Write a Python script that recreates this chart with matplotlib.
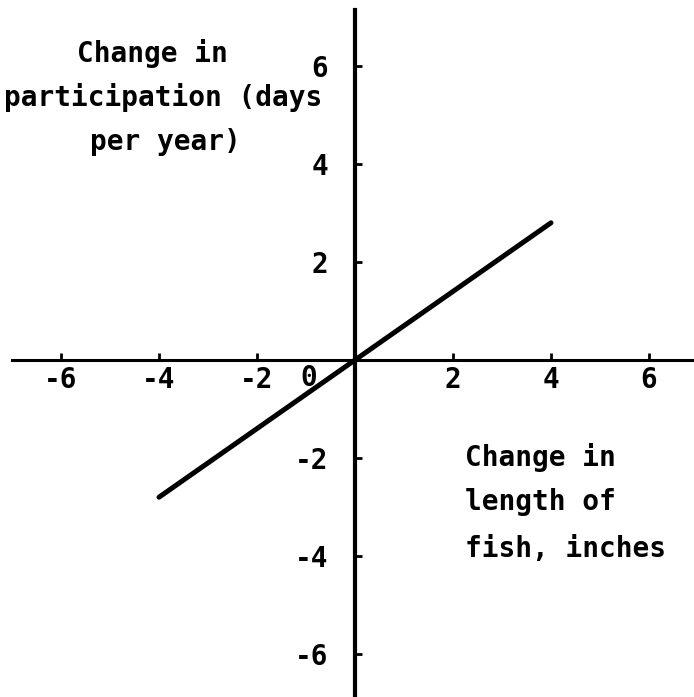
import matplotlib
matplotlib.use("Agg")
import matplotlib.pyplot as plt

# Data
line_x = [-4, 0, 4]
line_y = [-2.8, 0, 2.8]
x_ticks = [-6, -4, -2, 2, 4, 6]
y_ticks = [-6, -4, -2, 2, 4, 6]
x_label_lines = ["Change in", "length of", "fish, inches"]
y_label_lines = ["Change in", "participation (days", "per year)"]

W, H, DPI = 694, 697, 100
ox, oy, unit = 355, 360, 49.0

plt.rcParams['font.family'] = ['DejaVu Sans Mono']
plt.rcParams['font.weight'] = 'bold'

fig = plt.figure(figsize=(W / DPI, H / DPI), dpi=DPI)
ax = fig.add_axes([0, 0, 1, 1])
ax.set_xlim(-ox / unit, (W - ox) / unit)
ax.set_ylim(-(H - oy) / unit, oy / unit)

for s in ['top', 'right']:
    ax.spines[s].set_visible(False)
ax.spines['left'].set_position(('data', 0))
ax.spines['bottom'].set_position(('data', 0))
ax.spines['left'].set_linewidth(3.0)
ax.spines['bottom'].set_linewidth(2.2)
ax.spines['bottom'].set_bounds(-(ox - 12) / unit, (W - ox) / unit)
ax.spines['left'].set_bounds(-(695 - oy) / unit, (oy - 10) / unit)

ax.set_xticks(x_ticks)
ax.set_yticks(y_ticks)
ax.set_xticklabels([str(v) for v in x_ticks])
ax.set_yticklabels([str(v) for v in y_ticks])
ax.tick_params(axis='x', direction='in', length=5, width=2, pad=4, labelsize=20)
ax.tick_params(axis='y', direction='in', length=5, width=2, pad=19.5, labelsize=20)

ax.plot(line_x, line_y, color='black', linewidth=3.6, solid_capstyle='round')

# "0" label at the origin, left of the y-axis
ax.text(-0.95, -18 / unit, "0", ha='center', va='center', fontsize=20, fontweight='bold')

# y-axis label (three centred lines, upper left)
y_pos = [54, 97, 142]
x_centers = [152, 163, 165]
for txt, yp, xc in zip(y_label_lines, y_pos, x_centers):
    fig.text(xc / W, 1 - yp / H, txt, ha='center', va='center', fontsize=20, fontweight='bold')

# x-axis label (three left-aligned lines, lower right)
xl_pos = [457, 502, 549]
for txt, yp in zip(x_label_lines, xl_pos):
    fig.text(465 / W, 1 - yp / H, txt, ha='left', va='center', fontsize=20, fontweight='bold')

fig.savefig("out.png", dpi=DPI)
